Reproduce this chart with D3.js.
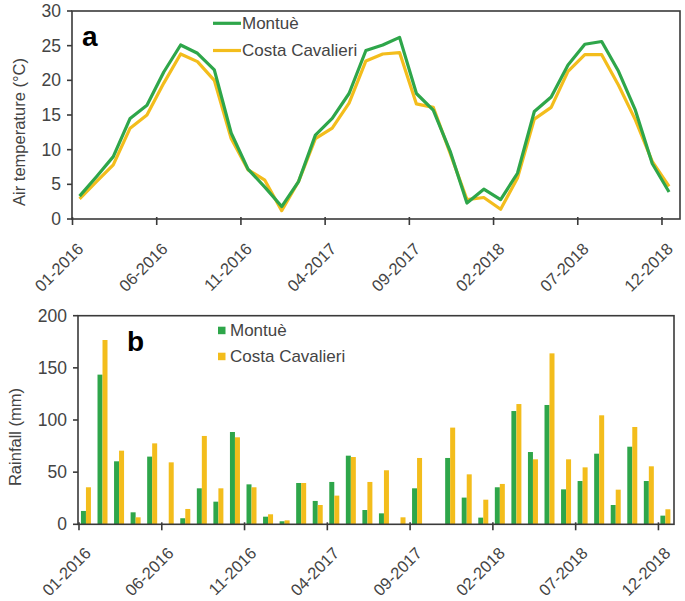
<!DOCTYPE html>
<html><head><meta charset="utf-8">
<script src="https://cdn.jsdelivr.net/npm/d3@7"></script>
<style>body{margin:0;background:#fff}svg{display:block}text{font-family:"Liberation Sans",Arial,sans-serif}</style>
</head><body><svg id="c" width="685" height="601"></svg>
<script>
const months = [];
for (let y = 2016; y <= 2018; y++) for (let m = 1; m <= 12; m++) months.push(String(m).padStart(2,"0") + "-" + y);
const tickLabels = ["01-2016","06-2016","11-2016","04-2017","09-2017","02-2018","07-2018","12-2018"];
const seriesNames = ["Montuè","Costa Cavalieri"];
const tempMontue = [3.3,6.1,9.0,14.5,16.4,21.2,25.1,23.9,21.5,12.4,7.2,4.6,1.8,5.4,12.1,14.5,18.1,24.3,25.1,26.2,18.1,15.7,9.8,2.3,4.3,2.8,6.6,15.5,17.6,22.2,25.2,25.6,21.3,15.7,8.0,3.9];
const tempCosta  = [2.9,5.4,7.8,13.1,15.0,19.6,23.8,22.7,20.0,11.6,7.1,5.6,1.2,5.4,11.6,13.1,16.7,22.8,23.8,24.0,16.6,16.1,9.5,2.8,3.1,1.4,5.9,14.4,16.1,21.3,23.7,23.7,19.3,14.3,8.3,4.7];
const rainMontue = [12.8,143.5,60.4,11.5,64.9,0,5.8,34.5,21.7,88.5,38.3,7.3,2.9,39.6,22.4,40.6,65.8,13.7,10.5,0,34.5,0,63.6,25.6,6.4,35.5,108.6,69.3,114.4,33.5,41.5,67.7,18.5,74.4,41.5,8.3];
const rainCosta  = [35.5,176.7,70.6,6.7,77.6,59.4,14.7,84.7,34.5,83.4,35.5,9.6,3.8,39.6,18.5,27.5,64.5,40.6,51.8,6.7,63.6,0,92.7,47.9,23.6,38.7,115.3,62.3,163.9,62.3,54.6,104.5,33.2,93.3,55.6,14.4];
const tempTicks = [0,5,10,15,20,25,30];
const rainTicks = [0,50,100,150,200];

const GREEN = "#2ea64a", ORANGE = "#f3bd1c", AXIS = "#3a3a3a", TXT = "#444444";
const svg = d3.select("#c");
const tickIdx = tickLabels.map(t => months.indexOf(t));

function frame(g, x, y, L, R, T, B, yTicks, yLabel, labelX, labelY, letter, letterPos, tickDx, tickDy) {
  g.append("rect").attr("x", L).attr("y", T).attr("width", R - L).attr("height", B - T)
    .attr("fill", "none").attr("stroke", AXIS).attr("stroke-width", 1.6);
  yTicks.forEach(v => {
    g.append("line").attr("x1", L - 5).attr("x2", L).attr("y1", y(v)).attr("y2", y(v)).attr("stroke", AXIS).attr("stroke-width", 1.6);
    g.append("text").attr("x", L - 11).attr("y", y(v)).attr("dy", "0.35em").attr("text-anchor", "end")
      .attr("font-size", 17.5).attr("fill", TXT).text(v);
  });
  tickIdx.forEach((ti, k) => {
    const px = x(ti);
    g.append("line").attr("x1", px).attr("x2", px).attr("y1", B - 2).attr("y2", B + 6).attr("stroke", AXIS).attr("stroke-width", 1.6);
    g.append("text").attr("transform", `translate(${px + tickDx},${B + tickDy}) rotate(-45)`)
      .attr("text-anchor", "end").attr("font-size", 16.5).attr("fill", TXT).text(tickLabels[k]);
  });
  g.append("text").attr("transform", `translate(${labelX},${labelY}) rotate(-90)`).attr("text-anchor", "middle")
    .attr("dy", "0.35em").attr("font-size", 16.5).attr("fill", TXT).text(yLabel);
  g.append("text").attr("x", letterPos[0]).attr("y", letterPos[1]).attr("font-size", 28).attr("font-weight", "bold")
    .attr("fill", "#000").text(letter);
}

// ---- Panel a ----
{
  const L = 72, R = 680, T = 11, B = 219;
  const x = d3.scaleLinear().domain([-0.03, 36.07]).range([L, R]);
  const y = d3.scaleLinear().domain([0, 30]).range([B, T]);
  const g = svg.append("g");
  frame(g, x, y, L, R, T, B, tempTicks, "Air temperature (°C)", 19, 132, "a", [82, 46], 12, 31);
  const line = d3.line().x((d, i) => x(i + 0.42)).y(d => y(d));
  g.append("path").datum(tempCosta).attr("d", line).attr("fill", "none").attr("stroke", ORANGE).attr("stroke-width", 3.2).attr("stroke-linejoin", "round");
  g.append("path").datum(tempMontue).attr("d", line).attr("fill", "none").attr("stroke", GREEN).attr("stroke-width", 3.2).attr("stroke-linejoin", "round");
  [[GREEN, 23.3], [ORANGE, 50.5]].forEach(([c, yy], k) => {
    g.append("line").attr("x1", 213).attr("x2", 241).attr("y1", yy).attr("y2", yy).attr("stroke", c).attr("stroke-width", 3.2);
    g.append("text").attr("x", 242).attr("y", yy).attr("dy", "0.35em").attr("font-size", 17).attr("fill", TXT).text(seriesNames[k]);
  });
}

// ---- Panel b ----
{
  const L = 78, R = 674, T = 315.7, B = 524.3;
  const x = d3.scaleLinear().domain([-0.06, 35.94]).range([L, R]);
  const y = d3.scaleLinear().domain([0, 200]).range([B, T]);
  const g = svg.append("g");
  const bw = 5;
  g.selectAll(".gm").data(rainMontue).join("rect").attr("x", (d, i) => x(i + 0.42) - bw).attr("width", bw)
    .attr("y", d => y(d)).attr("height", d => B - y(d)).attr("fill", GREEN);
  g.selectAll(".gc").data(rainCosta).join("rect").attr("x", (d, i) => x(i + 0.42)).attr("width", bw)
    .attr("y", d => y(d)).attr("height", d => B - y(d)).attr("fill", ORANGE);
  frame(g, x, y, L, R, T, B, rainTicks, "Rainfall (mm)", 15, 437, "b", [127, 351], 13, 30);
  [[GREEN, 330.5], [ORANGE, 356.5]].forEach(([c, yy], k) => {
    g.append("rect").attr("x", 218).attr("y", yy - 3.8).attr("width", 7.5).attr("height", 7.5).attr("fill", c);
    g.append("text").attr("x", 230).attr("y", yy).attr("dy", "0.35em").attr("font-size", 17).attr("fill", TXT).text(seriesNames[k]);
  });
}
</script></body></html>
